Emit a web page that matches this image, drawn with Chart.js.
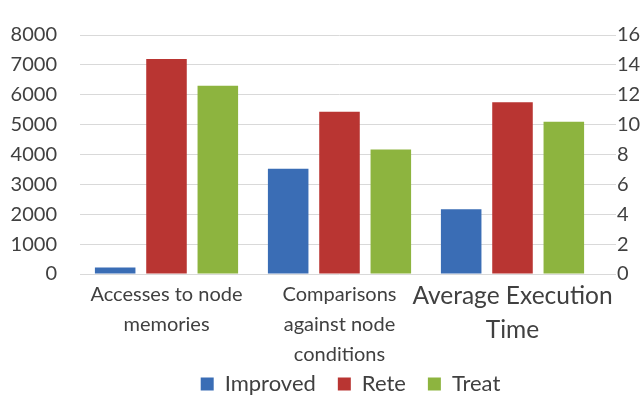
<!DOCTYPE html>
<html>
<head>
<meta charset="utf-8">
<script src="https://cdn.jsdelivr.net/npm/chart.js@4/dist/chart.umd.min.js"></script>
<style>
  html, body { margin: 0; padding: 0; background: #ffffff; }
  canvas { display: block; }
</style>
</head>
<body>
<canvas id="chart" width="644" height="397"></canvas>
<script>
// Categories (multi-line labels)
const categories = [
  ["Accesses to node", "memories"],
  ["Comparisons", "against node", "conditions"],
  ["Average Execution", "Time"]
];
const seriesNames = ["Improved", "Rete", "Treat"];
const seriesColors = ["#3A6DB5", "#B93532", "#8DB43F"];

// Counts (left axis) for the first two categories
const improvedCounts = [220, 3520, null];
const reteCounts     = [7200, 5430, null];
const treatCounts    = [6300, 4170, null];

// Average execution time (right axis), third category only
const improvedTime = [null, null, 4.33];
const reteTime     = [null, null, 11.5];
const treatTime    = [null, null, 10.2];

// Axis ticks
const leftTicks  = [0, 1000, 2000, 3000, 4000, 5000, 6000, 7000, 8000];
const rightTicks = [0, 2, 4, 6, 8, 10, 12, 14, 16];

const textColor = "#404040";
const gridColor = "#D9D9D9";
const fontFamily = "Lato, 'Open Sans', sans-serif";

const countSeries = [improvedCounts, reteCounts, treatCounts];
const timeSeries  = [improvedTime, reteTime, treatTime];

const datasets = [];
countSeries.forEach((data, i) => datasets.push({
  label: seriesNames[i], data, backgroundColor: seriesColors[i],
  yAxisID: "y", stack: seriesNames[i]
}));
timeSeries.forEach((data, i) => datasets.push({
  label: seriesNames[i] + " time", data, backgroundColor: seriesColors[i],
  yAxisID: "y1", stack: seriesNames[i]
}));

const plainNumber = (v) => String(v);

// nudge the legend a little to the right of the plot centre
const legendNudge = {
  id: "legendNudge",
  afterLayout(chart) {
    const lg = chart.legend;
    if (lg) { lg.left += 11; lg.right += 11; }
  }
};

new Chart(document.getElementById("chart"), {
  type: "bar",
  data: { labels: categories, datasets },
  plugins: [legendNudge],
  options: {
    responsive: false,
    animation: false,
    devicePixelRatio: 1,
    categoryPercentage: 0.89,
    barPercentage: 0.79,
    layout: { padding: { top: 16, left: 0, right: 0, bottom: 0 } },
    plugins: {
      tooltip: { enabled: false },
      legend: {
        position: "bottom",
        fullSize: false,
        maxHeight: 46,
        labels: {
          filter: (item) => item.datasetIndex < 3,
          boxWidth: 13,
          boxHeight: 13,
          padding: 22,
          color: textColor,
          font: { family: fontFamily, size: 22 }
        }
      }
    },
    scales: {
      x: {
        stacked: true,
        grid: { display: false, drawTicks: false },
        border: { display: false },
        ticks: {
          autoSkip: false,
          maxRotation: 0,
          padding: 6,
          color: textColor,
          font: (ctx) => ctx.index === 2
            ? { family: fontFamily, size: 24.5, lineHeight: 1.35 }
            : { family: fontFamily, size: 20, lineHeight: 1.5 }
        },
        afterFit: (scale) => {
          scale.height = 77;
          // let the three-line label run below the axis box
          scale._computeLabelArea = () => undefined;
        }
      },
      y: {
        position: "left",
        stacked: false,
        min: 0, max: 8000,
        afterBuildTicks: (scale) => { scale.ticks = leftTicks.map(v => ({ value: v })); },
        grid: { color: gridColor, lineWidth: 1, drawTicks: false },
        border: { display: false },
        ticks: { padding: 23, color: textColor, font: { family: fontFamily, size: 20 }, callback: plainNumber },
        afterFit: (scale) => { scale.width = 80; }
      },
      y1: {
        position: "right",
        stacked: false,
        min: 0, max: 16,
        afterBuildTicks: (scale) => { scale.ticks = rightTicks.map(v => ({ value: v })); },
        grid: { color: gridColor, lineWidth: 1, drawOnChartArea: false, drawTicks: true, tickLength: 17 },
        border: { display: false },
        ticks: { padding: 1, color: textColor, font: { family: fontFamily, size: 20 }, callback: plainNumber },
        afterFit: (scale) => { scale.width = 45; }
      }
    }
  }
});
</script>
</body>
</html>
